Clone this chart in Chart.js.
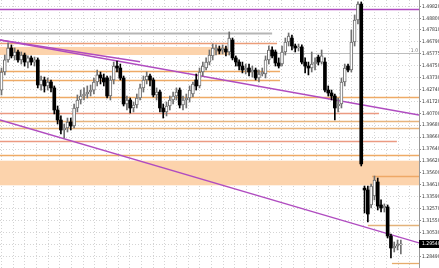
<!DOCTYPE html>
<html>
<head>
<meta charset="utf-8">
<script src="https://cdn.jsdelivr.net/npm/chart.js@4.4.1/dist/chart.umd.min.js"></script>
<style>
  html, body { margin: 0; padding: 0; background: #fff; }
</style>
</head>
<body>
<canvas id="priceChart" width="439" height="268"></canvas>
<script>
// candles, one per bar, oldest first
const opens = [
  1.4268, 1.4422, 1.4525, 1.4627, 1.4559, 1.4593, 1.4525, 1.4567, 1.4507, 1.4542,
  1.4507, 1.4525, 1.4311, 1.4354, 1.4303, 1.4337, 1.4286, 1.4098, 1.4012, 1.3927,
  1.3944, 1.3995, 1.3961, 1.4115, 1.4183, 1.4217, 1.4234, 1.4251, 1.4268, 1.4337,
  1.4397, 1.4371, 1.4371, 1.4217, 1.4354, 1.4473, 1.4456, 1.4371, 1.4149, 1.4183,
  1.4115, 1.4140, 1.4200, 1.4286, 1.4354, 1.4388, 1.4354, 1.4226, 1.4251, 1.4115,
  1.4081, 1.4132, 1.4183, 1.4217, 1.4268, 1.4140, 1.4183, 1.4200, 1.4234, 1.4354,
  1.4303, 1.4422, 1.4456, 1.4507, 1.4559, 1.4610, 1.4618, 1.4610, 1.4618, 1.4593,
  1.4695, 1.4542, 1.4507, 1.4473, 1.4439, 1.4456, 1.4422, 1.4439, 1.4371, 1.4405,
  1.4405, 1.4525, 1.4610, 1.4593, 1.4499, 1.4490, 1.4593, 1.4678, 1.4712, 1.4644,
  1.4627, 1.4636, 1.4507, 1.4473, 1.4456, 1.4490, 1.4550, 1.4507, 1.4507, 1.4268,
  1.4243, 1.4217, 1.4132, 1.4149, 1.4337, 1.4473, 1.4439, 1.4678, 1.4866, 1.5002,
  1.3431, 1.3415, 1.3287, 1.3364, 1.3483, 1.3287, 1.3261, 1.3270, 1.3022, 1.2920,
  1.2937, 1.2946
];
const highs = [
  1.4456, 1.4567, 1.4670, 1.4653, 1.4627, 1.4610, 1.4593, 1.4584, 1.4559, 1.4559,
  1.4550, 1.4542, 1.4388, 1.4379, 1.4371, 1.4354, 1.4303, 1.4132, 1.4047, 1.3978,
  1.4029, 1.4029, 1.4149, 1.4226, 1.4268, 1.4286, 1.4303, 1.4311, 1.4371, 1.4439,
  1.4422, 1.4405, 1.4388, 1.4388, 1.4507, 1.4516, 1.4490, 1.4388, 1.4217, 1.4200,
  1.4166, 1.4234, 1.4320, 1.4388, 1.4422, 1.4405, 1.4371, 1.4286, 1.4268, 1.4149,
  1.4166, 1.4217, 1.4251, 1.4286, 1.4286, 1.4217, 1.4234, 1.4303, 1.4337, 1.4405,
  1.4456, 1.4507, 1.4542, 1.4610, 1.4661, 1.4653, 1.4644, 1.4653, 1.4644, 1.4764,
  1.4712, 1.4559, 1.4525, 1.4507, 1.4490, 1.4490, 1.4473, 1.4456, 1.4439, 1.4456,
  1.4559, 1.4644, 1.4636, 1.4610, 1.4542, 1.4644, 1.4712, 1.4755, 1.4738, 1.4661,
  1.4661, 1.4653, 1.4542, 1.4507, 1.4593, 1.4542, 1.4567, 1.4610, 1.4542, 1.4303,
  1.4268, 1.4234, 1.4200, 1.4371, 1.4490, 1.4490, 1.4781, 1.4909, 1.5020, 1.5020,
  1.3449, 1.3449, 1.3466, 1.3534, 1.3517, 1.3330, 1.3296, 1.3287, 1.3039, 1.2971,
  1.2988, 1.2988
];
const lows = [
  1.4226, 1.4397, 1.4507, 1.4542, 1.4525, 1.4507, 1.4490, 1.4473, 1.4456, 1.4482,
  1.4473, 1.4286, 1.4268, 1.4251, 1.4268, 1.4251, 1.4064, 1.3978, 1.3893, 1.3859,
  1.3910, 1.3927, 1.3944, 1.4081, 1.4149, 1.4183, 1.4200, 1.4217, 1.4234, 1.4303,
  1.4320, 1.4303, 1.4200, 1.4183, 1.4320, 1.4422, 1.4354, 1.4132, 1.4098, 1.4072,
  1.4081, 1.4115, 1.4183, 1.4251, 1.4320, 1.4303, 1.4209, 1.4183, 1.4081, 1.4029,
  1.4047, 1.4098, 1.4149, 1.4183, 1.4115, 1.4098, 1.4115, 1.4166, 1.4209, 1.4268,
  1.4286, 1.4388, 1.4439, 1.4482, 1.4525, 1.4567, 1.4576, 1.4576, 1.4559, 1.4567,
  1.4525, 1.4473, 1.4439, 1.4414, 1.4405, 1.4388, 1.4379, 1.4354, 1.4337, 1.4388,
  1.4371, 1.4490, 1.4542, 1.4473, 1.4456, 1.4473, 1.4567, 1.4644, 1.4610, 1.4593,
  1.4601, 1.4490, 1.4414, 1.4397, 1.4422, 1.4439, 1.4482, 1.4490, 1.4251, 1.4217,
  1.4183, 1.4012, 1.4081, 1.4115, 1.4303, 1.4422, 1.4422, 1.4644, 1.4832, 1.3620,
  1.3219, 1.3142, 1.3261, 1.3330, 1.3244, 1.3227, 1.3227, 1.3005, 1.2835, 1.2886,
  1.2903, 1.2869
];
const closes = [
  1.4422, 1.4525, 1.4627, 1.4559, 1.4593, 1.4525, 1.4567, 1.4507, 1.4542, 1.4507,
  1.4525, 1.4311, 1.4354, 1.4303, 1.4337, 1.4286, 1.4098, 1.4012, 1.3927, 1.3944,
  1.3995, 1.3961, 1.4115, 1.4183, 1.4217, 1.4234, 1.4251, 1.4268, 1.4337, 1.4397,
  1.4371, 1.4337, 1.4217, 1.4354, 1.4473, 1.4456, 1.4371, 1.4149, 1.4183, 1.4115,
  1.4140, 1.4200, 1.4286, 1.4354, 1.4388, 1.4354, 1.4226, 1.4251, 1.4115, 1.4081,
  1.4132, 1.4183, 1.4217, 1.4251, 1.4140, 1.4183, 1.4200, 1.4268, 1.4320, 1.4303,
  1.4422, 1.4473, 1.4507, 1.4567, 1.4627, 1.4627, 1.4601, 1.4627, 1.4593, 1.4712,
  1.4542, 1.4507, 1.4473, 1.4439, 1.4456, 1.4422, 1.4439, 1.4371, 1.4405, 1.4422,
  1.4525, 1.4610, 1.4559, 1.4499, 1.4473, 1.4593, 1.4678, 1.4729, 1.4644, 1.4627,
  1.4636, 1.4507, 1.4473, 1.4456, 1.4490, 1.4507, 1.4507, 1.4559, 1.4268, 1.4243,
  1.4217, 1.4115, 1.4149, 1.4337, 1.4456, 1.4439, 1.4678, 1.4866, 1.5002, 1.3637,
  1.3415, 1.3210, 1.3449, 1.3500, 1.3278, 1.3261, 1.3278, 1.3022, 1.2920, 1.2937,
  1.2954, 1.2954
];

// price scale labels on the right
const yTickLabels = [
  '1.49820', '1.48800', '1.47810', '1.46790', '1.45775', '1.44750', '1.43730',
  '1.42740', '1.41720', '1.40700', '1.39680', '1.38660', '1.37640', '1.36620',
  '1.35600', '1.34610', '1.33590', '1.32570', '1.31550', '1.30530', '1.29510', '1.28490'
];

// horizontal levels: price, first bar, last bar
const levelPrices = [1.4957, 1.4755, 1.4670, 1.4580, 1.4433, 1.4354, 1.4211, 1.4075,
                     1.4006, 1.3942, 1.3836, 1.3716, 1.3534, 1.3119, 1.2792];
const levelStart  = [-0.5, -0.5, -0.5, 69, -0.5, -0.5, -0.5, -0.5,
                     -0.5, -0.5, -0.5, -0.5, 112.3, 111, 118.3];
const levelEnd    = [127, 82, 83.5, 127, 84.4, 84.4, 127, 114.4,
                     127, 127, 119.8, 127, 127, 127, 127];

// shaded zones
const bandTop    = [1.4636, 1.3665];
const bandBottom = [1.4567, 1.3455];
const bandStart  = [-0.5, -0.5];
const bandEnd    = [69, 127];

// trend lines
const trendX1 = [-0.45, -0.45, -0.45];
const trendY1 = [1.4695, 1.4695, 1.4012];
const trendX2 = [126.5, 42, 126.5];
const trendY2 = [1.4055, 1.4510, 1.2963];

const X_MIN = -0.45, X_MAX = 126.5;
const Y_MIN = 1.27491, Y_MAX = 1.50366;
const axisFont = '"Liberation Sans Narrow", "DejaVu Sans Condensed", sans-serif';

const isUp = i => closes[i] >= opens[i];
const bodies = opens.map((o, i) => ({ x: i, y: [o, closes[i]] }));
const wicks = lows.map((l, i) => ({ x: i, y: [l, highs[i]] }));

const levelColors = ['#b04cc0', '#b5b5b5', '#eb9c78', '#bdbdbd', '#eeaa66', '#eeaa66', '#eeaa66',
                     '#eb9a82', '#e8b47c', '#e8b47c', '#eb9a82', '#eeaa66', '#eea866', '#e3b27a', '#e6ac6c'];
const levelWidths = [1.5, 2, 1.3, 1, 1.3, 1.3, 1.3, 1.6, 1.3, 1.3, 1.6, 1.3, 1.6, 1.3, 1.3];

const levelsPlugin = {
    id: 'levels',
    beforeDatasetsDraw(chart) {
        const { ctx, chartArea: a, scales: { x, y } } = chart;
        ctx.save();
        ctx.beginPath();
        ctx.rect(a.left, a.top, a.right - a.left, a.bottom - a.top);
        ctx.clip();

        bandTop.forEach((top, i) => {
            const x1 = x.getPixelForValue(bandStart[i]);
            const x2 = x.getPixelForValue(bandEnd[i]);
            const y1 = y.getPixelForValue(top);
            const y2 = y.getPixelForValue(bandBottom[i]);
            ctx.fillStyle = '#fcd3ac';
            ctx.fillRect(x1, y1, x2 - x1, y2 - y1);
        });

        levelPrices.forEach((p, i) => {
            const py = Math.round(y.getPixelForValue(p)) + 0.5;
            ctx.strokeStyle = levelColors[i];
            ctx.lineWidth = levelWidths[i];
            ctx.beginPath();
            ctx.moveTo(x.getPixelForValue(levelStart[i]), py);
            ctx.lineTo(x.getPixelForValue(levelEnd[i]), py);
            ctx.stroke();
        });

        trendX1.forEach((x1, i) => {
            ctx.strokeStyle = '#b04cc0';
            ctx.lineWidth = 1.4;
            ctx.beginPath();
            ctx.moveTo(x.getPixelForValue(x1), y.getPixelForValue(trendY1[i]));
            ctx.lineTo(x.getPixelForValue(trendX2[i]), y.getPixelForValue(trendY2[i]));
            ctx.stroke();
        });
        ctx.restore();
    },
    afterDraw(chart) {
        const { ctx, chartArea: a, scales: { y } } = chart;
        ctx.save();
        ctx.font = '5px ' + axisFont;
        ctx.fillStyle = '#777';
        ctx.textAlign = 'right';
        ctx.textBaseline = 'bottom';
        ctx.fillText('1.0', a.right - 1, y.getPixelForValue(levelPrices[3]));

        // current price marker
        const last = closes[closes.length - 1];
        const py = Math.round(y.getPixelForValue(last));
        ctx.fillStyle = '#000';
        ctx.fillRect(a.right, py - 4, chart.width - a.right, 8);
        ctx.fillStyle = '#fff';
        ctx.textAlign = 'left';
        ctx.textBaseline = 'middle';
        ctx.fillText(last.toFixed(5), a.right + 3, py);
        ctx.restore();
    }
};

new Chart(document.getElementById('priceChart').getContext('2d'), {
    type: 'bar',
    data: {
        datasets: [{
            label: 'body',
            data: bodies,
            order: 0,
            grouped: false,
            barThickness: 3,
            minBarLength: 1,
            borderSkipped: false,
            backgroundColor: c => isUp(c.dataIndex) ? '#ffffff' : '#000000',
            borderColor: c => isUp(c.dataIndex) ? '#6e6e6e' : '#000000',
            borderWidth: c => isUp(c.dataIndex) ? 1 : 0
        }, {
            label: 'wick',
            data: wicks,
            order: 1,
            grouped: false,
            barThickness: 1,
            borderSkipped: false,
            backgroundColor: c => isUp(c.dataIndex) ? '#707070' : '#000000'
        }]
    },
    options: {
        responsive: false,
        animation: false,
        events: [],
        layout: { padding: 0 },
        plugins: { legend: { display: false }, tooltip: { enabled: false } },
        scales: {
            x: {
                type: 'linear',
                min: X_MIN,
                max: X_MAX,
                offset: false,
                ticks: { display: false, stepSize: 3.536, includeBounds: false },
                grid: { color: '#d4d4d4', drawTicks: false, offset: false },
                border: { display: false, dash: [1, 2] }
            },
            y: {
                type: 'linear',
                position: 'right',
                min: Y_MIN,
                max: Y_MAX,
                beginAtZero: false,
                afterBuildTicks: s => { s.ticks = yTickLabels.map(t => ({ value: parseFloat(t) })); },
                afterFit: s => { s.width = 20; s.paddingTop = 0; s.paddingBottom = 0; },
                ticks: {
                    autoSkip: false,
                    callback: (v, i) => yTickLabels[i],
                    font: { family: axisFont, size: 5 },
                    color: '#333',
                    padding: 1
                },
                grid: { color: '#d4d4d4', tickLength: 2, tickColor: '#888' },
                border: { display: true, color: '#999', dash: [1, 2] }
            }
        }
    },
    plugins: [levelsPlugin]
});
</script>
</body>
</html>
